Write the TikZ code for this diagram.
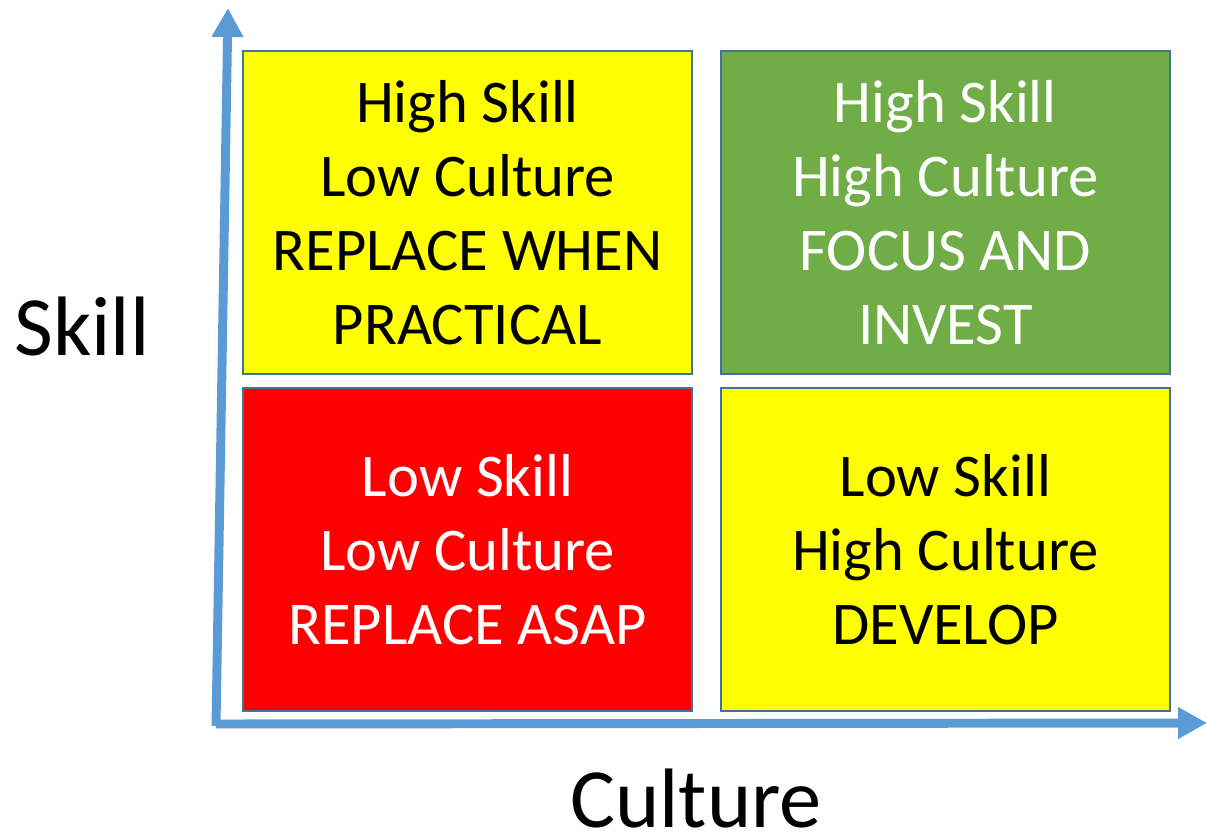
\documentclass[tikz,border=0pt]{standalone}
\usepackage{fontspec}
\setmainfont{Carlito}
\usetikzlibrary{arrows.meta,positioning}
\definecolor{axisblue}{RGB}{91,155,213}
\definecolor{edge}{RGB}{65,113,156}
\definecolor{lemon}{RGB}{255,255,0}
\definecolor{moss}{RGB}{112,173,71}
\definecolor{alarm}{RGB}{255,0,0}
\tikzset{
  quad/.style={draw=edge,line width=1.1pt,fill=#1,inner sep=0pt,outer sep=0pt,
    minimum width=8.98cm,minimum height=6.46cm,align=center,
    font=\fontsize{34.5}{42.2}\selectfont},
  quad/.default=lemon,
  axis/.style={draw=axisblue,line width=5.1pt,-{Triangle[length=5.8mm,width=6mm]}},
  axislabel/.style={anchor=base,inner sep=0pt,font=\fontsize{48}{58}\selectfont},
}
\begin{document}
\begin{tikzpicture}[x=0.02cm,y=-0.02cm]
  \useasboundingbox (0,0) rectangle (1207,835);
  % the four quadrants
  \node[quad=lemon] (hslc) at (467.5,212.5) {High Skill\\Low Culture\\REPLACE WHEN\\PRACTICAL};
  \node[quad=moss,text=white,right=0.58cm of hslc] (hshc) {High Skill\\High Culture\\FOCUS AND\\INVEST};
  \node[quad=alarm,text=white,below=0.28cm of hslc] (lslc) {Low Skill\\Low Culture\\REPLACE ASAP};
  \node[quad=lemon,below=0.28cm of hshc] (lshc) {Low Skill\\High Culture\\DEVELOP};
  % axes
  \coordinate (origin) at (216,724);
  \coordinate (ytip) at (228,8);
  \coordinate (xtip) at (1207,723);
  \draw[axis] ([yshift=-0.04cm]origin) -- (ytip);
  \draw[axis] (origin) -- (xtip);
  \node[axislabel] (skill) at (82,355) {Skill};
  \node[axislabel] (culture) at (696,827) {Culture};
\end{tikzpicture}
\end{document}
